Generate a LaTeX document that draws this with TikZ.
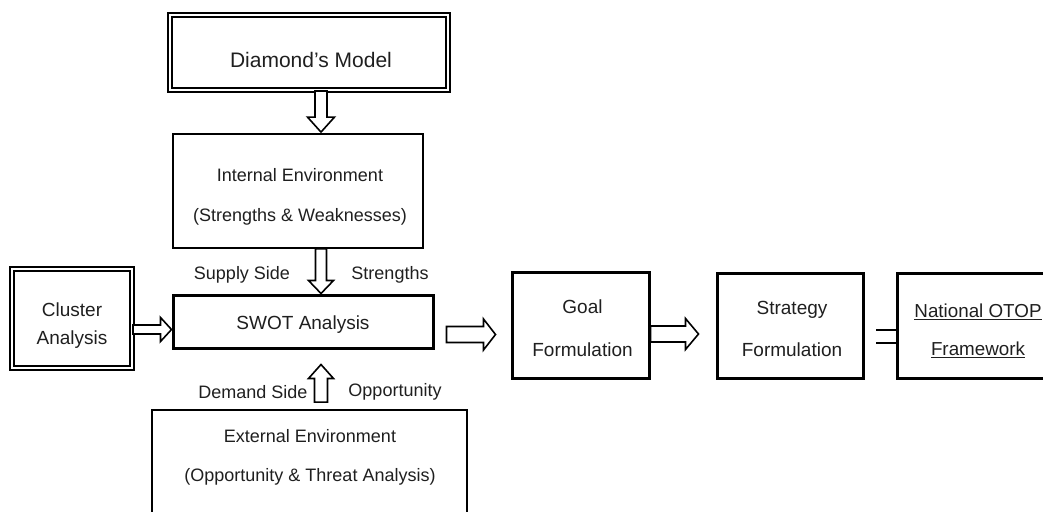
\documentclass[tikz,border=0pt]{standalone}
\usepackage{fontspec}
\setmainfont{Liberation Sans}
\usetikzlibrary{calc}
\tikzset{
 box/.style={draw, rectangle, inner sep=0pt, line width=1.8pt},
 thickbox/.style={draw, rectangle, inner sep=0pt, line width=3pt},
 dblbox/.style={draw, rectangle, inner sep=0pt, double, line width=2pt, double distance=2.6pt},
 txt/.style={align=center, inner sep=0pt, text=black!88},
 lbl/.style={inner sep=0pt, text=black!88, font=\fontsize{18}{22}\selectfont},
 blk/.style={draw, line width=1.6pt, fill=white, line join=miter},
 eqline/.style={draw, line width=1.8pt},
}
\newcommand\blockarrow[5]{%
 \coordinate (ba-h) at ($(#2)!#5!(#1)$);
 \draw[blk] ($(#1)!#3!90:(#2)$) -- ($(ba-h)!#3!90:(#2)$) -- ($(ba-h)!#4!90:(#2)$) -- (#2)
   -- ($(ba-h)!#4!-90:(#2)$) -- ($(ba-h)!#3!-90:(#2)$) -- ($(#1)!#3!-90:(#2)$) -- cycle;}
\begin{document}
\begin{tikzpicture}[x=1pt,y=-1pt]
\path[use as bounding box] (0,0) rectangle (1043,511);
\clip (0,0) rectangle (1043,511);

% boxes
\node[dblbox, minimum width=278pt, minimum height=75pt] (diamond) at (309,52.5) {};
\node[box, minimum width=250pt, minimum height=114pt] (internal) at (298,191) {};
\node[thickbox, minimum width=260pt, minimum height=53pt] (swot) at (303,321.5) {};
\node[dblbox, minimum width=120pt, minimum height=99pt] (cluster) at (72,318.5) {};
\node[box, minimum width=315pt, minimum height=140pt] (external) at (309.5,480) {};
\node[thickbox, minimum width=137pt, minimum height=106pt] (goal) at (580.5,325) {};
\node[thickbox, minimum width=146pt, minimum height=105pt] (strategy) at (790,325.5) {};
\node[thickbox, minimum width=166pt, minimum height=105pt] (national) at (980,325.5) {};

% texts
\node[txt, font=\fontsize{21}{25}\selectfont] (tdiamond) at (311,60) {Diamond’s Model};
\node[txt, font=\fontsize{18}{40}\selectfont] (tinternal) at (300,197) {Internal Environment\\(Strengths \& Weaknesses)};
\node[txt, font=\fontsize{19}{23}\selectfont] (tswot) at (303,325) {SWOT Analysis};
\node[txt, font=\fontsize{19}{28}\selectfont] (tcluster) at (72,326) {Cluster\\Analysis};
\node[txt, font=\fontsize{18}{39}\selectfont] (texternal) at (310,457.5) {External Environment\\(Opportunity \& Threat Analysis)};
\node[txt, font=\fontsize{19}{43}\selectfont] (tgoal) at (582.5,328.5) {Goal\\Formulation};
\node[txt, font=\fontsize{19}{42}\selectfont] (tstrategy) at (792,329) {Strategy\\Formulation};
\node[txt, font=\fontsize{18.8}{38}\selectfont] (tnational) at (978,331) {\underline{National OTOP}\\\underline{Framework}};

% side labels
\node[lbl] (supply) at (242,275) {Supply Side};
\node[lbl] (strengths) at (390,275) {Strengths};
\node[lbl] (demand) at (253,392) {Demand Side};
\node[lbl] (opportunity) at (395,392) {Opportunity};

% connectors
\coordinate (a1s) at (321,0 |- diamond.south);
\coordinate (a1e) at ($(321,0 |- internal.north)+(0,-1)$);
\blockarrow{a1s}{a1e}{6pt}{13.5pt}{15pt}

\coordinate (a2s) at (321,0 |- internal.south);
\coordinate (a2e) at (321,0 |- swot.north);
\blockarrow{a2s}{a2e}{5.5pt}{12.5pt}{13pt}

\coordinate (a3s) at ($(321,0 |- external.north)+(0,-7)$);
\coordinate (a3e) at ($(321,0 |- swot.south)+(0,15)$);
\blockarrow{a3s}{a3e}{6.5pt}{12.5pt}{14pt}

\coordinate (a4s) at ($(cluster.east)+(0,11)$);
\coordinate (a4e) at (swot.west |- a4s);
\blockarrow{a4s}{a4e}{4.5pt}{12pt}{11pt}

\coordinate (a5s) at ($(swot.east)+(12,13)$);
\coordinate (a5e) at ($(goal.west |- a5s)+(-15,0)$);
\blockarrow{a5s}{a5e}{8pt}{15.5pt}{12pt}

\coordinate (a6s) at ($(goal.east)+(0,9)$);
\coordinate (a6e) at ($(strategy.west |- a6s)+(-17,0)$);
\blockarrow{a6s}{a6e}{8pt}{15.5pt}{13pt}

\draw[eqline] ($(national.west)+(0,4.5)$) -- ++(-20,0);
\draw[eqline] ($(national.west)+(0,17.5)$) -- ++(-20,0);
\end{tikzpicture}
\end{document}
